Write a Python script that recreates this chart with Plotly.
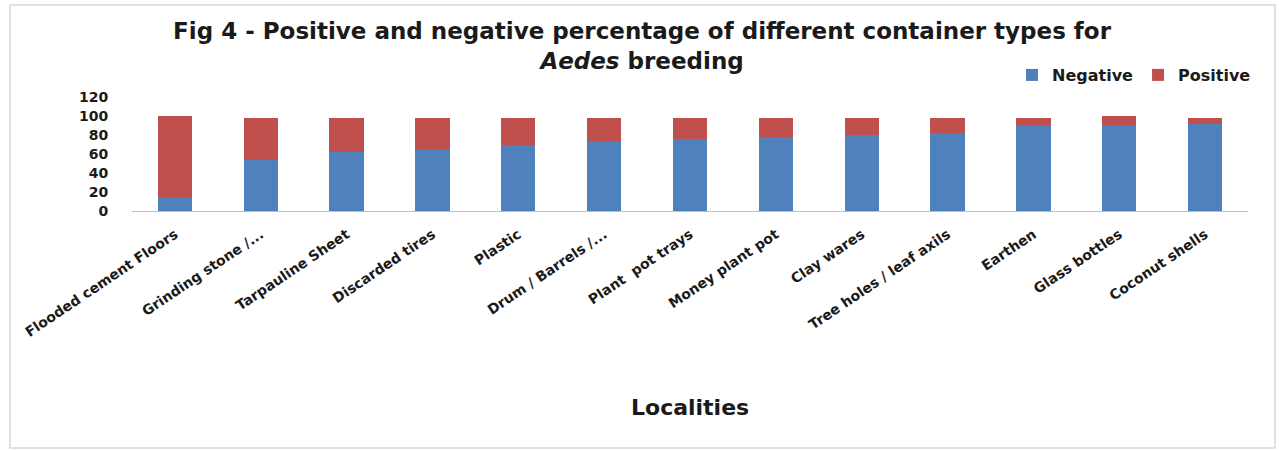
import plotly.graph_objects as go

categories = ["Flooded cement Floors", "Grinding stone /...", "Tarpauline Sheet", "Discarded tires",
              "Plastic", "Drum / Barrels /...", "Plant  pot trays", "Money plant pot", "Clay wares",
              "Tree holes / leaf axils", "Earthen", "Glass bottles", "Coconut shells"]
negative = [15, 54, 62, 64, 70, 73, 75.5, 78, 80, 82, 89.5, 90.5, 92]
positive = [85, 44, 36, 34, 28, 25, 22.5, 20, 18, 16, 8.5, 9, 6]
y_ticks = [0, 20, 40, 60, 80, 100, 120]

FONT = "'DejaVu Sans', Verdana, sans-serif"
L, R, T, B = 132, 31, 97, 239
W, H = 1279, 450
pw, ph = W - L - R, H - T - B

fig = go.Figure()
fig.add_trace(go.Bar(x=categories, y=negative, name="Negative", marker=dict(color="#4F81BD", line=dict(width=0))))
fig.add_trace(go.Bar(x=categories, y=positive, name="Positive", marker=dict(color="#C0504D", line=dict(width=0))))

def px_x(x):
    return (x - L) / pw

def px_y(y):
    return (H - B - y) / ph

fig.update_layout(
    barmode="stack",
    bargap=0.6,
    width=W, height=H,
    margin=dict(l=L, r=R, t=T, b=B, autoexpand=False),
    paper_bgcolor="white", plot_bgcolor="white",
    font=dict(family=FONT, color="#262626"),
    title=dict(
        text="<b>Fig 4 - Positive and negative percentage of different container types for<br><i>Aedes</i> breeding</b>",
        x=0.502, xref="container", xanchor="center",
        y=1 - 39 / H, yref="container", yanchor="middle",
        font=dict(family=FONT, size=23, color="#1a1a1a"),
    ),
    legend=dict(
        orientation="h", x=px_x(1012), xanchor="left", y=px_y(75), yanchor="middle",
        font=dict(family=FONT, size=16, color="#1a1a1a", weight="bold"),
        itemwidth=30, traceorder="normal", bgcolor="rgba(0,0,0,0)",
    ),
    xaxis=dict(
        tickangle=-34, showline=True, linecolor="#BFBFBF", linewidth=1,
        ticks="outside", ticklen=9, tickcolor="rgba(0,0,0,0)",
        tickfont=dict(family=FONT, size=14, color="#1a1a1a", weight="bold"),
        showgrid=False,
    ),
    yaxis=dict(
        range=[0, 120], tickvals=y_ticks, showgrid=False, zeroline=False, showline=False,
        ticks="outside", ticklen=20, tickcolor="rgba(0,0,0,0)",
        tickfont=dict(family=FONT, size=14, color="#1a1a1a", weight="bold"),
    ),
    annotations=[dict(
        text="<b>Localities</b>", xref="paper", yref="paper", x=0.5, y=px_y(407),
        xanchor="center", yanchor="middle", showarrow=False,
        font=dict(family=FONT, size=22, color="#1a1a1a"),
    )],
    shapes=[dict(
        type="rect", xref="paper", yref="paper",
        x0=px_x(10), x1=px_x(1275), y0=px_y(448), y1=px_y(5),
        line=dict(color="#D9D9D9", width=1.5), fillcolor="rgba(0,0,0,0)", layer="below",
    )],
)

fig.write_html("out.html")
